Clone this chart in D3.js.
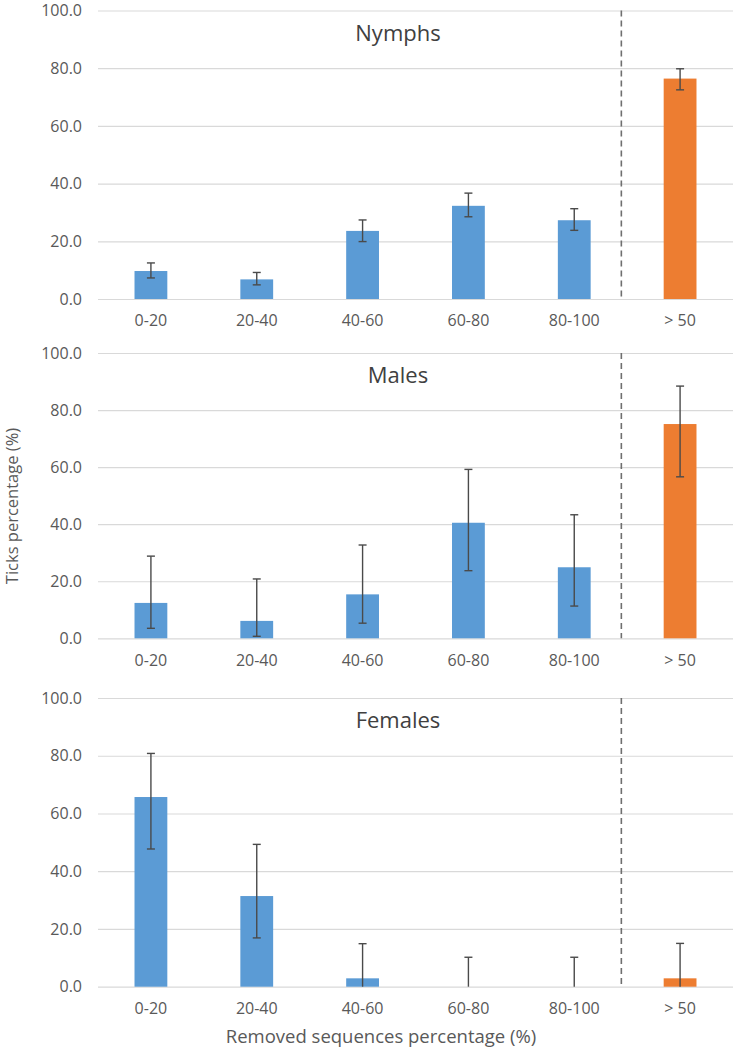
<!DOCTYPE html>
<html>
<head>
<meta charset="utf-8">
<script src="https://cdn.jsdelivr.net/npm/d3@7"></script>
<style>
  html, body { margin: 0; padding: 0; background: #fff; }
  svg { display: block; }
  text { font-family: "Open Sans", "Noto Sans", sans-serif; }
</style>
</head>
<body>
<svg id="chart" width="739" height="1053"></svg>
<script>
// ---- data ----
const categories = ["0-20", "20-40", "40-60", "60-80", "80-100", "> 50"];
const panelTitles = ["Nymphs", "Males", "Females"];
const yTicks = [0, 20, 40, 60, 80, 100];

const nymphValues = [9.7, 6.8, 23.6, 32.3, 27.3, 76.4];
const nymphLower  = [7.3, 4.9, 19.9, 28.5, 23.8, 72.5];
const nymphUpper  = [12.5, 9.2, 27.4, 36.7, 31.3, 79.8];

const maleValues = [12.4, 6.1, 15.4, 40.5, 24.9, 75.1];
const maleLower  = [3.5, 0.7, 5.3, 23.7, 11.3, 56.6];
const maleUpper  = [28.8, 20.8, 32.7, 59.2, 43.3, 88.4];

const femaleValues = [65.7, 31.4, 2.9, 0, 0, 2.9];
const femaleLower  = [47.7, 16.9, 0, 0, 0, 0];
const femaleUpper  = [80.8, 49.3, 14.9, 10.2, 10.2, 15.0];

const highlightCategory = "> 50";
const yLabel = "Ticks percentage (%)";
const xLabel = "Removed sequences percentage (%)";

// ---- layout ----
const panels = [
  { title: panelTitles[0], values: nymphValues, lower: nymphLower, upper: nymphUpper, top: 10.5, bottom: 299 },
  { title: panelTitles[1], values: maleValues, lower: maleLower, upper: maleUpper, top: 353, bottom: 638.3 },
  { title: panelTitles[2], values: femaleValues, lower: femaleLower, upper: femaleUpper, top: 698, bottom: 986.7 }
];
const plotLeft = 98, plotRight = 733;
const blue = "#5b9bd5", orange = "#ed7d31";
const textColor = "#595959";

const svg = d3.select("#chart");

const x = d3.scaleBand()
  .domain(categories)
  .range([plotLeft, plotRight])
  .paddingInner(0.69)
  .paddingOuter(0.345);

panels.forEach(p => {
  const y = d3.scaleLinear().domain([0, 100]).range([p.bottom, p.top]);
  const g = svg.append("g");

  // gridlines + y tick labels
  const yAxis = g.append("g")
    .attr("transform", `translate(${plotLeft},0)`)
    .call(d3.axisLeft(y).tickValues(yTicks).tickFormat(d3.format(".1f"))
      .tickSize(-(plotRight - plotLeft)).tickPadding(16));
  yAxis.select(".domain").remove();
  yAxis.selectAll(".tick line").attr("stroke", "#d9d9d9").attr("stroke-width", 1.2);
  yAxis.selectAll(".tick text").attr("fill", textColor).style("font-size", "16px");

  // x category labels
  const xAxis = g.append("g")
    .attr("transform", `translate(0,${p.bottom})`)
    .call(d3.axisBottom(x).tickSize(0).tickPadding(16));
  xAxis.select(".domain").remove();
  xAxis.selectAll(".tick text").attr("fill", textColor).style("font-size", "16px");

  const data = categories.map((c, i) => ({ c, v: p.values[i], lo: p.lower[i], hi: p.upper[i] }));

  // bars
  g.selectAll("rect.bar").data(data).enter().append("rect")
    .attr("class", "bar")
    .attr("x", d => x(d.c))
    .attr("width", x.bandwidth())
    .attr("y", d => y(d.v))
    .attr("height", d => y(0) - y(d.v))
    .attr("fill", d => d.c === highlightCategory ? orange : blue);

  // error bars
  const eb = g.selectAll("g.err").data(data).enter().append("g").attr("class", "err")
    .attr("stroke", "#4a4a4a").attr("stroke-width", 1.4);
  const cx = d => x(d.c) + x.bandwidth() / 2;
  eb.append("line")
    .attr("x1", cx).attr("x2", cx)
    .attr("y1", d => y(d.lo)).attr("y2", d => y(d.hi));
  eb.append("line")
    .attr("x1", d => cx(d) - 4).attr("x2", d => cx(d) + 4)
    .attr("y1", d => y(d.hi)).attr("y2", d => y(d.hi));
  eb.filter(d => d.lo > 0).append("line")
    .attr("x1", d => cx(d) - 4).attr("x2", d => cx(d) + 4)
    .attr("y1", d => y(d.lo)).attr("y2", d => y(d.lo));

  // dashed divider
  const divX = x(highlightCategory) - x.step() * x.paddingInner() / 2 - x.step() * 0.055;
  g.append("line")
    .attr("x1", divX).attr("x2", divX)
    .attr("y1", y(100)).attr("y2", y(0))
    .attr("stroke", "#6f6f6f").attr("stroke-width", 1.6)
    .attr("stroke-dasharray", "6,4");

  // title
  g.append("text")
    .attr("x", 398).attr("y", y(100) + 30)
    .attr("text-anchor", "middle")
    .attr("fill", "#404040")
    .style("font-size", "22px")
    .text(p.title);
});

// axis titles
svg.append("text")
  .attr("transform", `translate(18,506) rotate(-90)`)
  .attr("text-anchor", "middle")
  .attr("fill", textColor)
  .style("font-size", "16.5px")
  .text(yLabel);

svg.append("text")
  .attr("x", 381).attr("y", 1043)
  .attr("text-anchor", "middle")
  .attr("fill", textColor)
  .style("font-size", "18.5px")
  .text(xLabel);
</script>
</body>
</html>
